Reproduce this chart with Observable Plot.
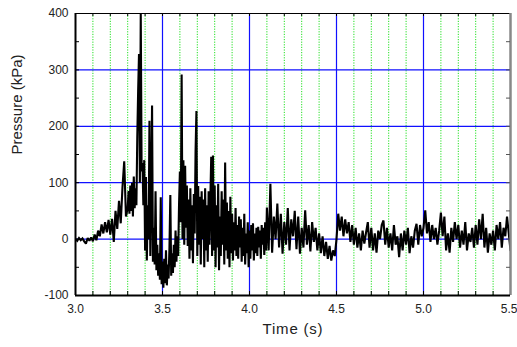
<!DOCTYPE html>
<html>
<head>
<meta charset="utf-8">
<script src="https://cdn.jsdelivr.net/npm/d3@7"></script>
<script src="https://cdn.jsdelivr.net/npm/@observablehq/plot@0.6"></script>
<style>
  html, body { margin: 0; padding: 0; background: #fff; }
  #chart { width: 517px; height: 347px; }
  svg { font-family: "Liberation Sans", Arial, sans-serif; }
  .xlab text { letter-spacing: 0.8px; }
</style>
</head>
<body>
<div id="chart"></div>
<script>
// ---- Data (pressure trace, kPa) ----
// Segment A: 3.00 .. 3.29 s, every 0.01 s
const segAStart = 3.00, segAStep = 0.01;
const segAValues = [0,-3,2,-2,1,-4,-8,2,-3,3,-4,8,-2,15,5,26,10,30,12,34,8,36,-5,50,18,68,28,92,138,40];
// Segment B: 3.300 .. 4.095 s, every 0.005 s
const segBStart = 3.30, segBStep = 0.005;
const segBValues = [
  55,85,45,95,50,100,40,111,55,90,
  60,180,262,328,100,400,120,135,60,140,
  -20,110,-38,60,0,210,-30,80,237,-40,
  20,-45,85,-55,-10,-65,-25,-72,74,-80,
  -40,-86,-35,-78,-20,-82,-45,-70,-15,78,
  -65,-25,-60,-10,-50,15,-40,5,-30,60,
  120,30,292,0,140,-10,130,20,95,-12,
  70,-35,90,-20,60,-43,80,10,155,227,
  -30,94,-10,75,-45,85,0,70,-50,90,
  -20,60,-40,85,-10,70,146,-30,148,-20,
  95,-50,60,-15,98,-55,40,-30,85,-10,
  70,-45,136,-20,65,-35,50,-50,75,-25,
  45,-38,30,-20,55,-30,25,-35,40,-15,
  35,-40,20,-30,45,-45,10,-25,30,-50,
  15,-35,25,-20,28,-38,10,-25,20,-30,
  22,-15,15,-35,25,-10,20,-28,30,-20
];
// Segment C: 4.10 .. 5.50 s, every 0.01 s
const segCStart = 4.10, segCStep = 0.01;
const segCValues = [
  56,-20,98,-24,40,0,63,-15,45,-26,
  30,-10,55,-20,35,5,50,-18,40,-26,
  20,-15,51,-10,25,-22,30,-5,20,-20,
  10,-25,5,-30,-5,-35,-12,-38,-20,-30,
  0,45,15,40,5,35,10,30,-5,25,
  -10,20,-15,10,-20,15,-8,12,30,-15,
  20,-20,10,-24,15,0,25,33,-10,20,
  -15,10,-20,25,-10,5,-32,10,-20,15,
  -10,20,-25,5,-15,15,27,-10,25,5,
  20,51,10,30,-5,25,0,20,-10,15,
  47,5,40,-20,10,-24,20,-5,30,0,
  25,-15,15,-10,30,-20,10,-5,20,-15,
  25,-10,35,0,45,-15,20,-24,10,-10,
  15,-20,25,0,30,-15,20,5,40,10,
  -20
];

// ---- Axis ticks / grid ----
const xTickLabels = [3.0, 3.5, 4.0, 4.5, 5.0];
const xLastTickLabel = [5.5];
const xMajorGrid = [3.5, 4.0, 4.5, 5.0];
const xMinorGrid = [3.1,3.2,3.3,3.4,3.6,3.7,3.8,3.9,4.1,4.2,4.3,4.4,4.6,4.7,4.8,4.9,5.1,5.2,5.3,5.4];
const xMinorTicks = [3.1,3.2,3.3,3.4,3.5,3.6,3.7,3.8,3.9,4.0,4.1,4.2,4.3,4.4,4.5,4.6,4.7,4.8,4.9,5.0,5.1,5.2,5.3,5.4];
const yTickLabels = [-100, 0, 100, 200, 300, 400];
const yMajorGrid = [0, 100, 200, 300];
const yMinorTicks = [-50, 0, 50, 100, 150, 200, 250, 300, 350];
const xLabel = "Time (s)";
const yLabel = "Pressure (kPa)";

// Build table
const data = [];
segAValues.forEach((v, i) => data.push({t: +(segAStart + i * segAStep).toFixed(4), p: v}));
segBValues.forEach((v, i) => data.push({t: +(segBStart + i * segBStep).toFixed(4), p: v}));
segCValues.forEach((v, i) => data.push({t: +(segCStart + i * segCStep).toFixed(4), p: v}));

const W = 517, H = 347;
const mL = 75, mR = 7, mT = 13, mB = 52;
const plotW = W - mL - mR, plotH = H - mT - mB;

const chart = Plot.plot({
  width: W,
  height: H,
  marginLeft: mL,
  marginRight: mR,
  marginTop: mT,
  marginBottom: mB,
  style: {background: "#fff", fontFamily: "'Liberation Sans', Arial, sans-serif"},
  x: {domain: [3.0, 5.5], label: null},
  y: {domain: [-100, 400], label: null},
  marks: [
    // minor green dotted grid
    Plot.ruleX(xMinorGrid, {stroke: "#22e022", strokeWidth: 1, strokeDasharray: "1.2,1.4"}),
    // major blue grid
    Plot.ruleX(xMajorGrid, {stroke: "#1010ff", strokeWidth: 1.2}),
    Plot.ruleY(yMajorGrid, {stroke: "#1010ff", strokeWidth: 1.2}),
    // signal
    Plot.line(data, {x: "t", y: "p", stroke: "#000", strokeWidth: 2.1, strokeLinejoin: "miter", strokeMiterlimit: 2, clip: true}),
    // frame
    Plot.ruleY([400], {stroke: "#000", strokeWidth: 1.2}),
    Plot.ruleX([5.5], {stroke: "#888", strokeWidth: 2.5}),
    Plot.ruleX([3.0], {stroke: "#000", strokeWidth: 2}),
    Plot.ruleY([-100], {stroke: "#000", strokeWidth: 2}),
    // inward ticks
    Plot.ruleX(xMinorTicks, {stroke: "#000", strokeWidth: 1, insetTop: plotH - 4}),
    Plot.ruleX(xMinorTicks, {stroke: "#000", strokeWidth: 1, insetBottom: plotH - 3}),
    Plot.ruleY(yMinorTicks, {stroke: "#000", strokeWidth: 1, insetRight: plotW - 4}),
    Plot.ruleY(yMinorTicks, {stroke: "#555", strokeWidth: 1, insetLeft: plotW - 4}),
    // axes labels
    Plot.axisX(xTickLabels, {tickSize: 0, tickPadding: 9, tickFormat: d3.format(".1f"), fontSize: 12, fill: "#222", label: null}),
    Plot.axisX(xLastTickLabel, {tickSize: 0, tickPadding: 9, tickFormat: d3.format(".1f"), fontSize: 12, fill: "#222", label: null, textAnchor: "end", dx: 7}),
    Plot.axisY(yTickLabels, {tickSize: 0, tickPadding: 7, tickFormat: d => String(d), fontSize: 12, fill: "#222", label: null}),
    Plot.text([yLabel], {frameAnchor: "left", rotate: -90, dx: -58, fontSize: 15, fill: "#222", text: d => d}),
    Plot.text([xLabel], {frameAnchor: "bottom", dy: 38, fontSize: 15, fill: "#222", text: d => d, className: "xlab"})
  ]
});
document.getElementById("chart").appendChild(chart);
</script>
</body>
</html>
